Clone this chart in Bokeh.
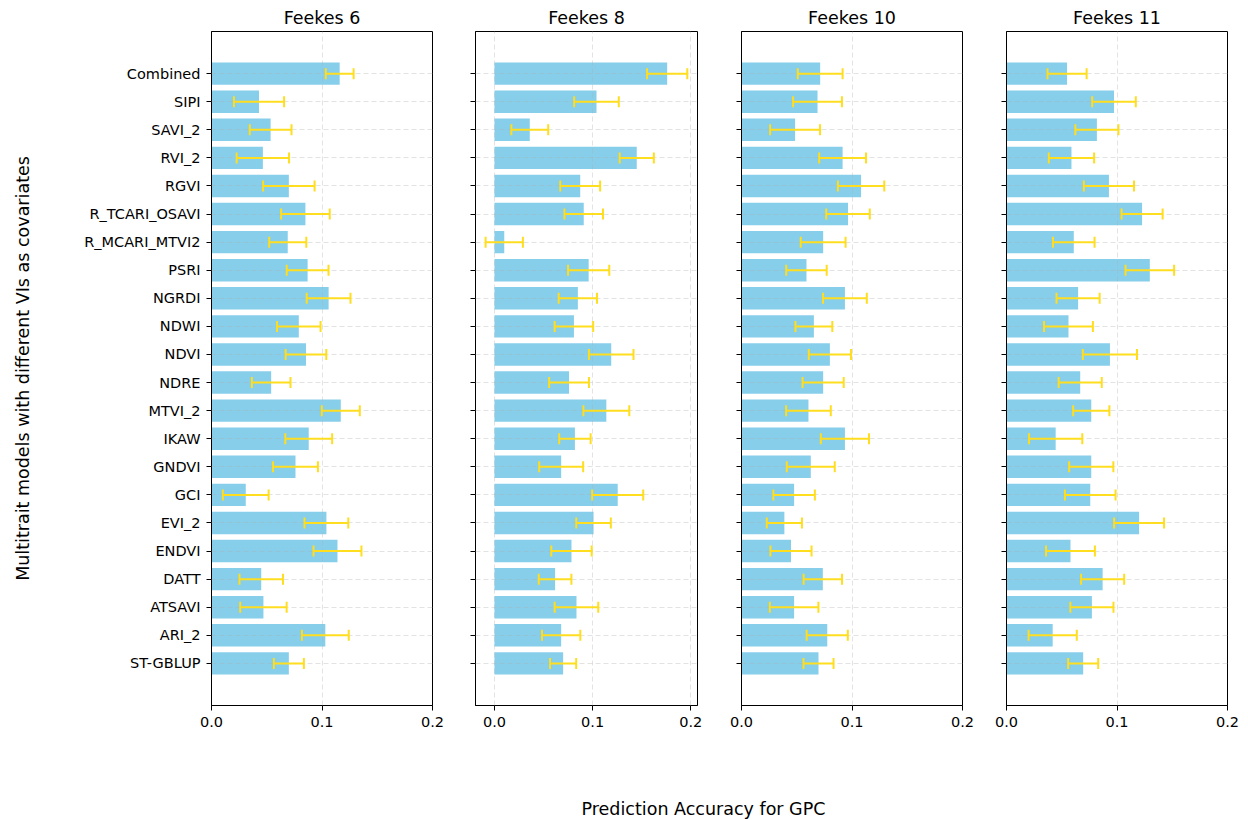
from bokeh.plotting import figure
from bokeh.models import Range1d, FixedTicker, Whisker, TeeHead, ColumnDataSource, Label
from bokeh.layouts import row, column
from bokeh.embed import file_html
from bokeh.resources import INLINE

# ---------------- data (bottom -> top) ----------------
categories = ["ST-GBLUP", "ARI_2", "ATSAVI", "DATT", "ENDVI", "EVI_2", "GCI", "GNDVI",
              "IKAW", "MTVI_2", "NDRE", "NDVI", "NDWI", "NGRDI", "PSRI", "R_MCARI_MTVI2",
              "R_TCARI_OSAVI", "RGVI", "RVI_2", "SAVI_2", "SIPI", "Combined"]

stages = ["Feekes 6", "Feekes 8", "Feekes 10", "Feekes 11"]

f6_acc = [0.070, 0.103, 0.047, 0.045, 0.114, 0.104, 0.031, 0.076, 0.088, 0.117, 0.054,
          0.0855, 0.079, 0.106, 0.087, 0.069, 0.085, 0.070, 0.0465, 0.0535, 0.043, 0.116]
f6_err = [0.0136, 0.0212, 0.0210, 0.0197, 0.0217, 0.0198, 0.0207, 0.0203, 0.0212, 0.0172, 0.0175,
          0.0184, 0.0197, 0.0198, 0.0189, 0.0168, 0.0220, 0.0233, 0.0237, 0.0189, 0.0227, 0.0126]

f8_acc = [0.070, 0.068, 0.0836, 0.0618, 0.0785, 0.101, 0.1256, 0.068, 0.082, 0.114, 0.076,
          0.119, 0.081, 0.085, 0.096, 0.010, 0.091, 0.0874, 0.145, 0.036, 0.104, 0.176]
f8_err = [0.0133, 0.0195, 0.0222, 0.0166, 0.0206, 0.0176, 0.0260, 0.0224, 0.0160, 0.0234, 0.0203,
          0.0227, 0.0196, 0.0195, 0.0210, 0.0190, 0.0196, 0.0203, 0.0174, 0.0188, 0.0227, 0.0205]

f10_acc = [0.0697, 0.0776, 0.0476, 0.0736, 0.0448, 0.0388, 0.0476, 0.0627, 0.0936, 0.0606, 0.0739,
           0.080, 0.0655, 0.0936, 0.0588, 0.0739, 0.0964, 0.1082, 0.0915, 0.0485, 0.0688, 0.0712]
f10_err = [0.0136, 0.0186, 0.0220, 0.0174, 0.0186, 0.0159, 0.0188, 0.0217, 0.0218, 0.0202, 0.0186,
           0.0191, 0.0167, 0.0198, 0.0183, 0.0203, 0.0197, 0.0210, 0.0212, 0.0226, 0.0221, 0.0203]

f11_acc = [0.0694, 0.0418, 0.0773, 0.087, 0.0579, 0.120, 0.0758, 0.0767, 0.0445, 0.0767, 0.0667,
           0.0936, 0.0561, 0.0648, 0.1297, 0.0609, 0.1227, 0.0927, 0.0588, 0.0818, 0.0973, 0.0548]
f11_err = [0.0136, 0.0218, 0.0195, 0.0195, 0.0221, 0.0226, 0.0229, 0.0200, 0.0241, 0.0164, 0.0195,
           0.0245, 0.0221, 0.0195, 0.0220, 0.0188, 0.0186, 0.0227, 0.0205, 0.0195, 0.0197, 0.0177]

x_tick_values = [0.0, 0.1, 0.2]
x_tick_labels = ["0.0", "0.1", "0.2"]

y_title = "Multitrait models with different VIs as covariates"
x_title = "Prediction Accuracy for GPC"

# ---------------- style ----------------
FONT = "DejaVu Sans"
BAR = "#87CEEB"
ERR = "#FFDD1F"
TICK_FS = "14.5px"
TITLE_FS = "17.5px"

series = [(f6_acc, f6_err), (f8_acc, f8_err), (f10_acc, f10_err), (f11_acc, f11_err)]
x_ranges = [(0.0, 0.2), (-0.0193, 0.2069), (0.0, 0.2), (0.0, 0.2)]
borders = [(211, 221, 14), (29, 222, 14), (30, 221, 14), (30, 221, 13)]
FRAME_H = 674
TOP = 31
ROW_H = 790

figs = []
for i, (stage, (acc, err), xr, (bl, fw, br)) in enumerate(zip(stages, series, x_ranges, borders)):
    ys = list(range(len(categories)))
    src = ColumnDataSource(dict(
        y=ys, acc=acc,
        lower=[a - e for a, e in zip(acc, err)],
        upper=[a + e for a, e in zip(acc, err)],
    ))
    p = figure(width=bl + fw + br, height=ROW_H, output_backend="svg", toolbar_location=None,
               x_range=Range1d(*xr), y_range=Range1d(-1.5, len(categories) + 0.5),
               min_border_left=bl, min_border_right=br, min_border_top=TOP,
               min_border_bottom=ROW_H - TOP - FRAME_H)
    p.title.text = stage
    p.title.align = "center"
    p.title.text_font = FONT
    p.title.text_font_size = TITLE_FS
    p.title.text_font_style = "normal"
    p.title.text_color = "black"
    p.title.standoff = 7

    p.hbar(y="y", right="acc", left=0, height=0.8, source=src,
           fill_color=BAR, line_color=None)
    wh = Whisker(source=src, base="y", lower="lower", upper="upper", dimension="width",
                 line_color=ERR, line_width=2, level="overlay",
                 upper_head=TeeHead(size=11, line_color=ERR, line_width=2),
                 lower_head=TeeHead(size=11, line_color=ERR, line_width=2))
    p.add_layout(wh)

    p.xaxis.ticker = FixedTicker(ticks=x_tick_values)
    p.xaxis.major_label_overrides = {v: l for v, l in zip(x_tick_values, x_tick_labels)}
    p.yaxis.ticker = FixedTicker(ticks=ys)
    if i == 0:
        p.yaxis.major_label_overrides = {y: c for y, c in zip(ys, categories)}
        p.yaxis.axis_label = y_title
        p.yaxis.axis_label_text_font = FONT
        p.yaxis.axis_label_text_font_size = TITLE_FS
        p.yaxis.axis_label_text_font_style = "normal"
        p.yaxis.axis_label_text_color = "black"
        p.yaxis.axis_label_standoff = 48
    else:
        p.yaxis.major_label_overrides = {y: "" for y in ys}

    for ax in (p.xaxis, p.yaxis):
        ax.major_label_text_font = FONT
        ax.major_label_text_font_size = TICK_FS
        ax.major_label_text_color = "black"
        ax.major_label_standoff = 6
        ax.major_tick_in = 0
        ax.major_tick_out = 5
        ax.major_tick_line_color = "black"
        ax.minor_tick_line_color = None
        ax.axis_line_color = "black"
    if i != 0:
        p.yaxis.major_label_text_font_size = "0px"

    for g in (p.xgrid, p.ygrid):
        g.grid_line_color = "#b0b0b0"
        g.grid_line_alpha = 0.35
        g.grid_line_dash = "5 3"
        g.grid_line_width = 1
        g.level = "guide"
    p.xgrid.ticker = FixedTicker(ticks=x_tick_values)
    p.ygrid.ticker = FixedTicker(ticks=ys)

    p.outline_line_color = "black"
    p.outline_line_width = 1
    p.outline_line_alpha = 1
    figs.append(p)

total_w = sum(b[0] + b[1] + b[2] for b in borders)
LAB_H = 30
lab = figure(width=total_w, height=LAB_H, output_backend="svg", toolbar_location=None,
             x_range=Range1d(0, total_w), y_range=Range1d(0, LAB_H),
             min_border=0, min_border_left=0, min_border_right=0, min_border_top=0, min_border_bottom=0)
lab.axis.visible = False
lab.grid.visible = False
lab.outline_line_color = None
lab.add_layout(Label(x=703, y=12, x_units="screen", y_units="screen", text=x_title,
                     text_align="center", text_baseline="middle", text_font=FONT,
                     text_font_size=TITLE_FS, text_color="black"))

layout = column(row(*figs), lab)
open("out.html", "w").write(file_html(layout, INLINE))
